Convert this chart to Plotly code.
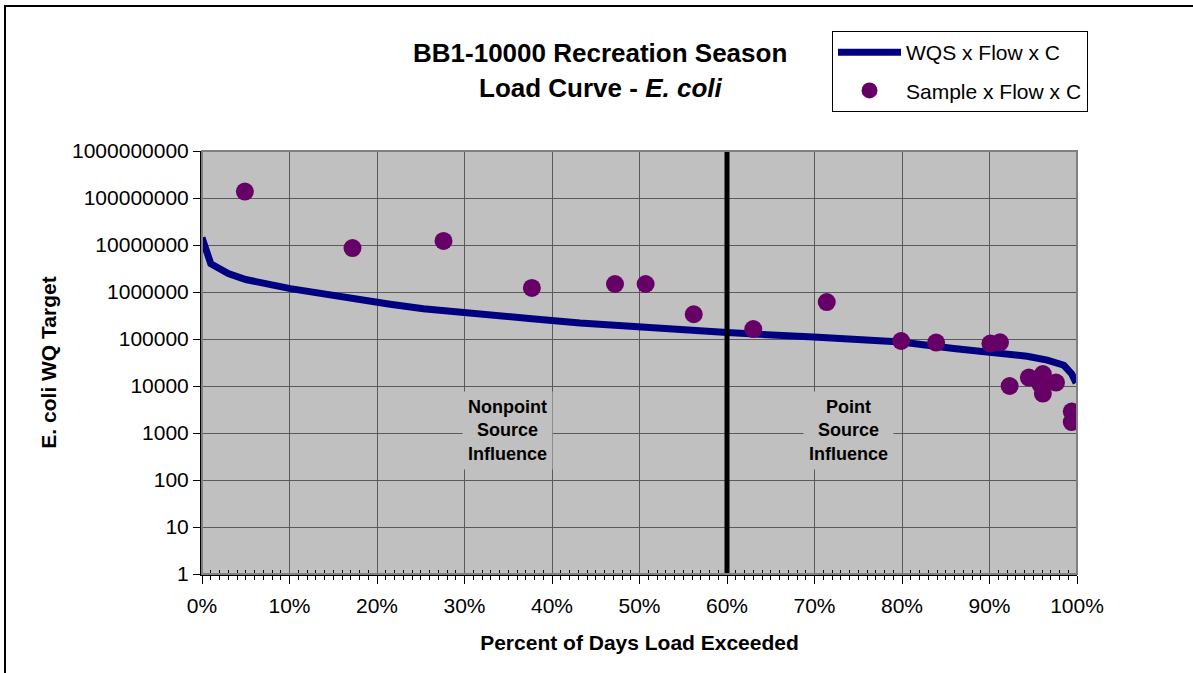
"""
BB1-10000 Recreation Season load curve for E. coli.
Log-scale load duration curve with the sampled loads on top.
"""

import plotly.graph_objects as go

# WQS x Flow x C curve (percent of days exceeded, load)
curve_pct = [0, 1.0, 3.0, 5.0, 10.1, 13.9, 18.9, 21.5, 25.3, 29.9, 32.9, 37.7,
             43.2, 50.0, 60.0, 69.9, 79.9, 85.9, 89.9, 94.3, 96.6, 98.5, 99.4, 99.9]
curve_load = [1.44e7, 4.0e6, 2.46e6, 1.84e6, 1.18e6, 8.9e5, 6.4e5, 5.5e5, 4.4e5,
              3.6e5, 3.08e5, 2.7e5, 2.19e5, 1.75e5, 1.37e5, 1.1e5, 8.6e4, 6.25e4,
              5.3e4, 4.3e4, 3.55e4, 2.76e4, 1.8e4, 1.16e4]

# Sample x Flow x C points
sample_pct = [4.9, 17.2, 27.6, 37.7, 47.2, 50.7, 56.2, 63.0, 71.4, 79.9, 83.9,
              90.1, 91.2, 92.3, 94.5, 95.8, 96.1, 96.1, 97.6, 99.4, 99.4]
sample_load = [1.37e8, 8.6e6, 1.22e7, 1.22e6, 1.48e6, 1.48e6, 3.36e5, 1.63e5,
               6.1e5, 9.06e4, 8.4e4, 8.0e4, 8.5e4, 1.0e4, 1.51e4, 1.1e4, 1.8e4,
               6.9e3, 1.18e4, 2.85e3, 1.71e3]

# dividing line between nonpoint and point source influence
divider_pct = [60, 60]
divider_load = [1, 1e9]

y_tickvals = [1, 10, 100, 1000, 10000, 100000, 1000000, 10000000, 100000000, 1000000000]
y_ticktext = ["1", "10", "100", "1000", "10000", "100000", "1000000", "10000000",
              "100000000", "1000000000"]

FONT = "Arial, Liberation Sans, sans-serif"

# plot area in pixels
W, H = 1193, 673
ML, MR, MT, MB = 202, 116, 151, 99
PW, PH = W - ML - MR, H - MT - MB


def px_x(p):
    return (p - ML) / PW


def px_y(p):
    return 1 - (p - MT) / PH


fig = go.Figure()

# divider on an overlaid x axis that only carries the crossing minor ticks
fig.add_trace(go.Scatter(
    x=divider_pct, y=divider_load, mode="lines", xaxis="x2",
    line=dict(color="#000000", width=5),
    showlegend=False, hoverinfo="skip",
))

fig.add_trace(go.Scatter(
    x=curve_pct, y=curve_load, mode="lines",
    name="WQS x Flow x C",
    line=dict(color="#000080", width=7),
    legendgroup="a",
))

fig.add_trace(go.Scatter(
    x=sample_pct, y=sample_load, mode="markers",
    name="Sample x Flow x C",
    marker=dict(color="#660066", size=18),
    legendgroup="b",
))

# region labels (y in log units)
for txt, xv in [("Nonpoint<br>Source<br>Influence", 34.9),
                ("Point<br>Source<br>Influence", 73.9)]:
    fig.add_annotation(
        x=xv, y=3.06, xref="x", yref="y", text="<b>" + txt + "</b>",
        showarrow=False, font=dict(family=FONT, size=18, color="#000000"),
        bgcolor="#C0C0C0", borderpad=5,
    )

# title
fig.add_annotation(
    x=px_x(600), y=px_y(53), xref="paper", yref="paper",
    xanchor="center", yanchor="middle",
    text="<b>BB1-10000 Recreation Season</b>", showarrow=False,
    font=dict(family=FONT, size=26, color="#000000"),
)
fig.add_annotation(
    x=px_x(600), y=px_y(88), xref="paper", yref="paper",
    xanchor="center", yanchor="middle",
    text="<b>Load Curve - <i>E. coli</i></b>", showarrow=False,
    font=dict(family=FONT, size=26, color="#000000"),
)

# outer chart frame
fig.add_shape(
    type="rect", xref="paper", yref="paper",
    x0=px_x(5), x1=px_x(1240), y0=px_y(720), y1=px_y(6),
    line=dict(color="#000000", width=2), layer="below",
)
# plot area border
fig.add_shape(
    type="rect", xref="paper", yref="paper",
    x0=0, x1=1, y0=0, y1=1,
    line=dict(color="#808080", width=2), layer="above",
)

fig.update_layout(
    width=W, height=H,
    margin=dict(l=ML, r=MR, t=MT, b=MB),
    paper_bgcolor="#FFFFFF",
    plot_bgcolor="#C0C0C0",
    font=dict(family=FONT, size=21, color="#000000"),
    showlegend=True,
    legend=dict(
        x=px_x(832), y=px_y(31), xanchor="left", yanchor="top",
        bgcolor="#FFFFFF", bordercolor="#000000", borderwidth=1,
        font=dict(family=FONT, size=21, color="#000000"),
        itemwidth=63, tracegroupgap=8, traceorder="grouped",
    ),
    xaxis2=dict(
        overlaying="x", anchor="y", side="bottom",
        range=[0, 100], showgrid=False, zeroline=False, showline=False,
        showticklabels=False, ticks="", dtick=10,
        minor=dict(dtick=1, ticks="inside", ticklen=4, tickcolor="#000000",
                   showgrid=False),
    ),
)

fig.update_xaxes(
    range=[0, 100], dtick=10, tick0=0, ticksuffix="%",
    showgrid=True, gridcolor="#5A5A5A", gridwidth=1,
    zeroline=False,
    showline=True, linecolor="#000000", linewidth=2,
    ticks="outside", ticklen=8, tickcolor="#000000",
    minor=dict(dtick=1, ticks="outside", ticklen=4, tickcolor="#000000", showgrid=False),
    tickfont=dict(family=FONT, size=21),
    ticklabelstandoff=4,
    title=dict(text="<b>Percent of Days Load Exceeded</b>",
               font=dict(family=FONT, size=21), standoff=19),
    selector=dict(overlaying=None),
)

fig.update_yaxes(
    type="log", range=[0, 9],
    tickvals=y_tickvals, ticktext=y_ticktext,
    showgrid=True, gridcolor="#5A5A5A", gridwidth=1,
    zeroline=False,
    showline=True, linecolor="#000000", linewidth=2,
    ticks="outside", ticklen=7, tickcolor="#000000",
    tickfont=dict(family=FONT, size=21),
    title=dict(text="<b>E. coli WQ Target</b>",
               font=dict(family=FONT, size=21), standoff=10),
)

# the page body has a default 8px margin; drop it so pixels line up
fig.write_html("out.html", config={"displayModeBar": False},
               post_script="document.body.style.margin='0';")
